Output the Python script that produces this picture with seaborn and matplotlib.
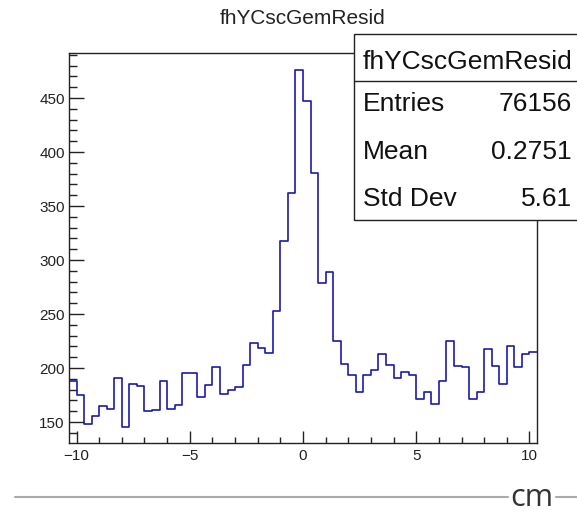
import numpy as np
import pandas as pd
import seaborn as sns
import matplotlib.pyplot as plt
from matplotlib.patches import Rectangle
from matplotlib.lines import Line2D
from matplotlib.ticker import MultipleLocator

# Histogram fhYCscGemResid, 62 bins of width 1/3 cm from -31/3 to 31/3
bin_lo, bin_hi, n_bins = -31 / 3, 31 / 3, 62
counts = [188, 175, 148, 156, 165, 162, 191, 145, 185, 183, 160, 161, 188, 162,
          166, 195, 195, 173, 184, 201, 176, 180, 182, 203, 223, 219, 214, 253,
          318, 362, 476, 447, 381, 279, 289, 225, 204, 194, 178, 194, 198, 213,
          203, 191, 196, 194, 171, 178, 167, 188, 225, 202, 201, 171, 178, 218,
          202, 185, 220, 201, 213, 215]
hist_name = "fhYCscGemResid"
stat_names = ["Entries", "Mean", "Std Dev"]
stat_values = ["76156", "0.2751", "5.61"]
x_ticks = [-10, -5, 0, 5, 10]
y_ticks = [150, 200, 250, 300, 350, 400, 450]

edges = np.linspace(bin_lo, bin_hi, n_bins + 1)
df = pd.DataFrame({"x": (edges[:-1] + edges[1:]) / 2, "n": counts})

sns.set_style("white")
plt.rcParams["font.family"] = ["Liberation Sans", "DejaVu Sans"]

W, H = 577, 514
fig = plt.figure(figsize=(W / 100, H / 100), dpi=100)
ax = fig.add_axes([69 / W, 1 - 443 / H, (537 - 69) / W, (443 - 52.7) / H])

sns.histplot(data=df, x="x", weights="n", bins=list(edges), element="step",
             fill=False, color="#1a1ab0", linewidth=1.2, ax=ax)

ax.set_xlim(bin_lo, bin_hi)
ax.set_ylim(130.6, 492)
ax.set_xticks(x_ticks)
ax.set_xticklabels([str(t).replace("-", "\u2212") for t in x_ticks])
ax.set_yticks(y_ticks)
ax.xaxis.set_minor_locator(MultipleLocator(1))
ax.yaxis.set_minor_locator(MultipleLocator(10))
ax.tick_params(which="both", direction="in", color="#222222", width=1.0,
               bottom=True, left=True, top=False, right=False,
               labelsize=11, labelcolor="#222222")
ax.tick_params(axis="y", which="major", length=11, pad=3)
ax.tick_params(axis="y", which="minor", length=5.5)
ax.tick_params(axis="x", which="major", length=8.5, pad=4)
ax.tick_params(axis="x", which="minor", length=4)
ax.set_xlabel("")
ax.set_ylabel("")
for s in ax.spines.values():
    s.set_color("#222222")
    s.set_linewidth(1.0)

# title
fig.text(303 / W, 1 - 19 / H, hist_name, ha="center", va="center",
         fontsize=15, color="#222222")

# stats box
fig.patches.append(Rectangle((354 / W, 1 - 220 / H), (600 - 354) / W, (220 - 34) / H,
                             transform=fig.transFigure, facecolor="white",
                             edgecolor="#222222", linewidth=1.0, zorder=5))
fig.lines.append(Line2D([354 / W, 1], [1 - 81 / H, 1 - 81 / H],
                        transform=fig.transFigure, color="#222222", lw=1.0, zorder=6))
fig.text(363 / W, 1 - 62 / H, hist_name, ha="left", va="center",
         fontsize=19, color="#111111", zorder=7)
for i, (nm, val) in enumerate(zip(stat_names, stat_values)):
    yy = 1 - (104 + i * 47.5) / H
    fig.text(363 / W, yy, nm, ha="left", va="center", fontsize=19,
             color="#111111", zorder=7)
    fig.text(572 / W, yy, val, ha="right", va="center", fontsize=19,
             color="#111111", zorder=7)

# slide decoration at bottom: grey rule broken by the "cm" label
for x0, x1 in [(15, 508), (556, W)]:
    fig.lines.append(Line2D([x0 / W, x1 / W], [1 - 497 / H, 1 - 497 / H],
                            transform=fig.transFigure, color="#aaaaaa", lw=1.5))
fig.text(532 / W, 1 - 513.5 / H, "cm", ha="center", va="bottom", fontsize=22,
         family="Open Sans", color="#333333")

fig.savefig("out.png", dpi=100)
